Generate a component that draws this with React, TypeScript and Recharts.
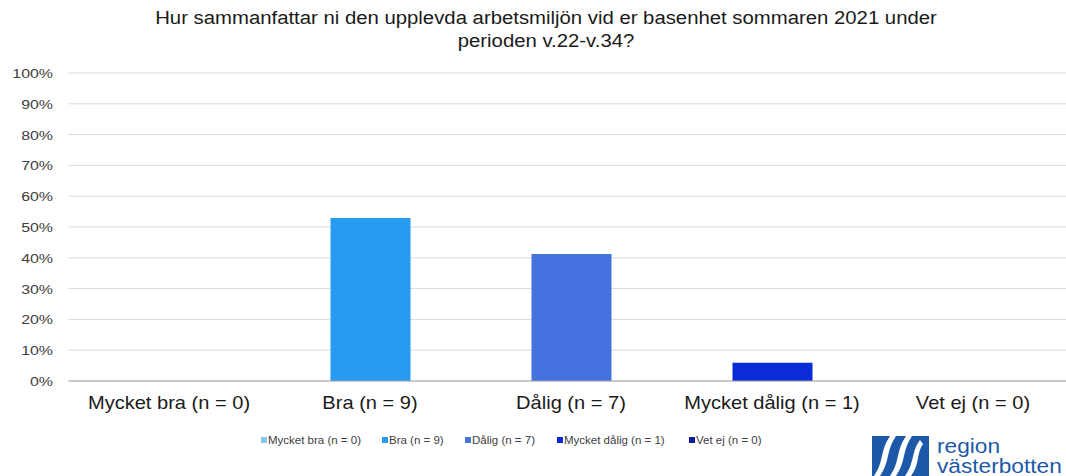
import React from "react";
import { BarChart, Bar, XAxis, YAxis, CartesianGrid } from "recharts";

const categories = [
  "Mycket bra (n = 0)",
  "Bra (n = 9)",
  "Dålig (n = 7)",
  "Mycket dålig (n = 1)",
  "Vet ej (n = 0)",
];
const percentValues = [0, 52.9, 41.2, 5.9, 0];
const seriesColors = ["#86C8EA", "#279BF0", "#4472DE", "#0B2BDA", "#0E1A9C"];
const yTicks = [0, 10, 20, 30, 40, 50, 60, 70, 80, 90, 100];
const titleLines = [
  "Hur sammanfattar ni den upplevda arbetsmiljön vid er basenhet sommaren 2021 under",
  "perioden v.22-v.34?",
];
const legendX = [261, 382, 465, 557, 689];

const seriesKeys = categories.map((_, i) => `s${i}`);
const data = categories.map((c, i) => {
  const row: Record<string, any> = { name: c };
  seriesKeys.forEach((k, j) => {
    row[k] = j === i ? percentValues[i] : null;
  });
  return row;
});

const FONT = "'Liberation Sans', Arial, sans-serif";

const XTick = (props: any) => {
  const { x, payload } = props;
  return (
    <text
      transform={`translate(${x},409) scale(1.115,1)`}
      textAnchor="middle"
      fontFamily={FONT}
      fontSize={18}
      fill="#1a1a1a"
    >
      {payload.value}
    </text>
  );
};

const YTick = (props: any) => {
  const { y, payload } = props;
  return (
    <text
      transform={`translate(53,${y + 5}) scale(1.18,1)`}
      textAnchor="end"
      fontFamily={FONT}
      fontSize={13.5}
      fill="#404040"
    >
      {`${payload.value}%`}
    </text>
  );
};

const Logo = () => (
  <g>
    <rect x={872} y={436} width={57} height={40} fill="#1D59A8" />
    <path d="M874 476 C 884 462, 880 450, 890 436 L 896 436 C 886 450, 890 462, 880 476 Z" fill="#fff" />
    <path d="M890 476 C 900 462, 896 450, 906 436 L 912 436 C 902 450, 906 462, 896 476 Z" fill="#fff" />
    <path d="M905 476 C 915 462, 911 452, 920 440 L 923 444 C 916 454, 920 464, 911 476 Z" fill="#fff" />
    <text transform="translate(937,453) scale(1.08,1)" fontFamily={FONT} fontSize={21} fill="#1D59A8">region</text>
    <text transform="translate(937,473) scale(1.08,1)" fontFamily={FONT} fontSize={21} fill="#1D59A8">västerbotten</text>
  </g>
);

export default function App() {
  return (
    <div
      style={{
        position: "absolute",
        left: 0,
        top: 0,
        width: 1066,
        height: 476,
        overflow: "hidden",
        background: "#fff",
      }}
    >
      <div style={{ position: "absolute", left: 0, top: 0 }}>
        <BarChart
          width={1080}
          height={476}
          data={data}
          margin={{ top: 73, right: 6.5, bottom: 65, left: 0 }}
        >
          <CartesianGrid vertical={false} stroke="#D9D9D9" />
          <XAxis
            dataKey="name"
            tickLine={false}
            axisLine={{ stroke: "#A6A6A6" }}
            tick={<XTick />}
            interval={0}
            height={30}
          />
          <YAxis
            domain={[0, 100]}
            ticks={yTicks}
            width={68.5}
            tickLine={false}
            axisLine={false}
            tick={<YTick />}
            interval={0}
          />
          {seriesKeys.map((k, i) => (
            <Bar
              key={k}
              dataKey={k}
              name={categories[i]}
              stackId="a"
              fill={seriesColors[i]}
              barSize={80}
              isAnimationActive={false}
            />
          ))}
        </BarChart>
      </div>
      {categories.map((c, i) => (
        <div
          key={c}
          style={{
            position: "absolute",
            left: legendX[i],
            top: 432,
            height: 16,
            display: "flex",
            alignItems: "center",
            fontFamily: FONT,
            fontSize: 11.5,
            color: "#404040",
            whiteSpace: "nowrap",
          }}
        >
          <span
            style={{
              display: "inline-block",
              width: 6,
              height: 6,
              background: seriesColors[i],
              marginRight: 1,
            }}
          />
          <span>{c}</span>
        </div>
      ))}
      <svg
        width={1066}
        height={476}
        style={{ position: "absolute", left: 0, top: 0, pointerEvents: "none" }}
      >
        {titleLines.map((t, i) => (
          <text
            key={i}
            transform={`translate(546,${24 + i * 22.5}) scale(1.13,1)`}
            textAnchor="middle"
            fontFamily={FONT}
            fontSize={18}
            fill="#1a1a1a"
          >
            {t}
          </text>
        ))}
        <Logo />
      </svg>
    </div>
  );
}
